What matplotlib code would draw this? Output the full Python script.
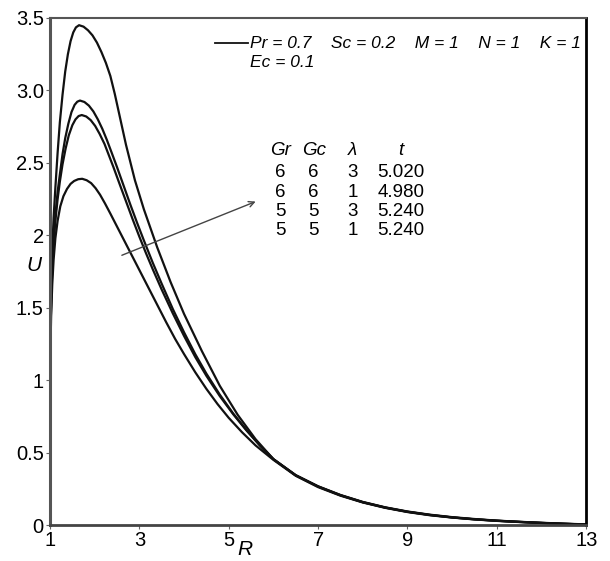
import matplotlib
matplotlib.use("Agg")
import matplotlib.pyplot as plt

plt.rcParams['font.family'] = ['Liberation Sans', 'DejaVu Sans']

# curve 1 (highest peak)
r1 = [1.0, 1.01, 1.025, 1.05, 1.08, 1.12, 1.17, 1.22, 1.28, 1.34, 1.40, 1.46, 1.52, 1.58,
      1.65, 1.75, 1.85, 1.95, 2.05, 2.15, 2.25, 2.35, 2.45, 2.55, 2.7, 2.9, 3.1, 3.4, 3.7,
      4.0, 4.4, 4.8, 5.2, 5.6, 6.0, 6.5, 7.0, 7.5, 8.0, 8.5, 9.0, 9.5, 10.0, 10.5, 11.0,
      11.5, 12.0, 12.5, 13.0]
u1 = [1.0, 1.3, 1.6, 1.9, 2.12, 2.33, 2.57, 2.78, 2.97, 3.13, 3.25, 3.34, 3.40, 3.435,
      3.45, 3.44, 3.415, 3.38, 3.33, 3.265, 3.19, 3.10, 2.975, 2.835, 2.625, 2.38, 2.18,
      1.916, 1.676, 1.457, 1.20, 0.961, 0.761, 0.593, 0.455, 0.345, 0.268, 0.208, 0.16,
      0.123, 0.094, 0.072, 0.055, 0.042, 0.031, 0.023, 0.016, 0.01, 0.005]

# curve 2
r2 = [1.0, 1.01, 1.025, 1.05, 1.08, 1.12, 1.17, 1.22, 1.28, 1.34, 1.41, 1.48, 1.55, 1.61,
      1.67, 1.77, 1.87, 1.97, 2.07, 2.17, 2.27, 2.38, 2.5, 2.65, 2.8, 2.95, 3.1, 3.3, 3.5,
      3.75, 4.0, 4.25, 4.5, 4.8, 5.1, 5.4, 5.7, 6.0, 6.5, 7.0, 7.5, 8.0, 8.5, 9.0, 9.5,
      10.0, 10.5, 11.0, 11.5, 12.0, 12.5, 13.0]
u2 = [1.0, 1.28, 1.55, 1.8, 1.98, 2.14, 2.3, 2.42, 2.56, 2.67, 2.77, 2.85, 2.9, 2.922,
      2.93, 2.92, 2.895, 2.855, 2.80, 2.735, 2.66, 2.57, 2.47, 2.34, 2.21, 2.085, 1.965,
      1.81, 1.665, 1.49, 1.33, 1.18, 1.045, 0.9, 0.77, 0.655, 0.55, 0.455, 0.343, 0.266,
      0.206, 0.158, 0.121, 0.092, 0.07, 0.053, 0.04, 0.03, 0.022, 0.015, 0.009, 0.004]

# curve 3
r3 = [1.0, 1.01, 1.025, 1.05, 1.08, 1.12, 1.17, 1.22, 1.28, 1.35, 1.42, 1.5, 1.57, 1.64,
      1.71, 1.81, 1.91, 2.01, 2.11, 2.22, 2.32, 2.42, 2.55, 2.7, 2.85, 3.0, 3.15, 3.3, 3.5,
      3.75, 4.0, 4.25, 4.5, 4.8, 5.1, 5.4, 5.7, 6.0, 6.5, 7.0, 7.5, 8.0, 8.5, 9.0, 9.5,
      10.0, 10.5, 11.0, 11.5, 12.0, 12.5, 13.0]
u3 = [1.0, 1.27, 1.53, 1.77, 1.95, 2.1, 2.25, 2.37, 2.49, 2.6, 2.69, 2.76, 2.8, 2.823,
      2.83, 2.82, 2.795, 2.755, 2.70, 2.63, 2.55, 2.47, 2.36, 2.235, 2.11, 1.99, 1.875,
      1.765, 1.625, 1.46, 1.305, 1.16, 1.03, 0.89, 0.765, 0.652, 0.548, 0.455, 0.343,
      0.266, 0.206, 0.158, 0.121, 0.092, 0.07, 0.053, 0.04, 0.03, 0.022, 0.015, 0.009, 0.004]

# curve 4 (lowest peak)
r4 = [1.0, 1.01, 1.025, 1.05, 1.08, 1.12, 1.17, 1.23, 1.3, 1.38, 1.46, 1.54, 1.63,
      1.72, 1.82, 1.92, 2.02, 2.12, 2.23, 2.35, 2.5, 2.65, 2.8, 3.0, 3.2, 3.4, 3.6, 3.8,
      4.0, 4.25, 4.5, 4.75, 5.0, 5.3, 5.6, 6.0, 6.5, 7.0, 7.5, 8.0, 8.5, 9.0, 9.5, 10.0,
      10.5, 11.0, 11.5, 12.0, 12.5, 13.0]
u4 = [1.0, 1.22, 1.45, 1.66, 1.83, 1.98, 2.1, 2.2, 2.27, 2.32, 2.355, 2.375, 2.387,
      2.39, 2.38, 2.36, 2.325, 2.28, 2.22, 2.15, 2.06, 1.97, 1.88, 1.76, 1.64, 1.52, 1.40,
      1.285, 1.18, 1.055, 0.94, 0.835, 0.74, 0.64, 0.55, 0.45, 0.34, 0.262, 0.203, 0.156,
      0.119, 0.09, 0.068, 0.052, 0.039, 0.029, 0.021, 0.014, 0.008, 0.004]

xticks = [1, 3, 5, 7, 9, 11, 13]
yticks = [0, 0.5, 1, 1.5, 2, 2.5, 3.0, 3.5]
ytick_labels = ['0', '0.5', '1', '1.5', '2', '2.5', '3.0', '3.5']

table_head = ['Gr', 'Gc', 'λ', 't']
table_rows = [['6', '6', '3', '5.020'],
              ['6', '6', '1', '4.980'],
              ['5', '5', '3', '5.240'],
              ['5', '5', '1', '5.240']]

fig = plt.figure(figsize=(6.10, 5.61), dpi=100)
ax = fig.add_axes([0.082, 0.064, 0.879, 0.904])

for r, u in [(r1, u1), (r2, u2), (r3, u3), (r4, u4)]:
    ax.plot(r, u, color='#111111', lw=1.6, solid_capstyle='round', solid_joinstyle='round')

ax.set_xlim(1, 13)
ax.set_ylim(0, 3.5)
ax.set_xticks(xticks)
ax.set_xticklabels([str(v) for v in xticks])
ax.set_yticks(yticks)
ax.set_yticklabels(ytick_labels)
ax.tick_params(labelsize=14.5, length=3, width=0.8, color='#666666', pad=1.5)

ax.spines['left'].set(lw=2.2, color='#555555')
ax.spines['bottom'].set(lw=2.0, color='#444444')
ax.spines['top'].set(lw=1.5, color='#555555')
ax.spines['right'].set(lw=2.0, color='black')

ax.set_xlabel('R', fontsize=15, style='italic')
ax.xaxis.set_label_coords(0.364, -0.03)
ax.set_ylabel('U', fontsize=15, style='italic', rotation=0, va='center')
ax.yaxis.set_label_coords(-0.03, 0.512)

# parameter legend
ax.plot([4.70, 5.42], [3.325, 3.325], color='#111111', lw=1.3)
ax.text(5.48, 3.325, 'Pr = 0.7    Sc = 0.2    M = 1    N = 1    K = 1',
        fontsize=12.5, style='italic', va='center', ha='left')
ax.text(5.48, 3.19, 'Ec = 0.1', fontsize=12.5, style='italic', va='center', ha='left')

# table of cases
cols = [6.16, 6.90, 7.77, 8.85]
rows_u = [2.434, 2.297, 2.166, 2.034]
for x, h in zip(cols, table_head):
    ax.text(x, 2.586, h, fontsize=13.5, style='italic', ha='center', va='center')
for yy, row in zip(rows_u, table_rows):
    for x, v in zip(cols, row):
        ax.text(x, yy, v, fontsize=13.5, ha='center', va='center')

ax.annotate('', xy=(5.66, 2.24), xytext=(2.55, 1.855),
            arrowprops=dict(arrowstyle='->', color='#444444', lw=1.0))

fig.savefig('out.png', dpi=100)
